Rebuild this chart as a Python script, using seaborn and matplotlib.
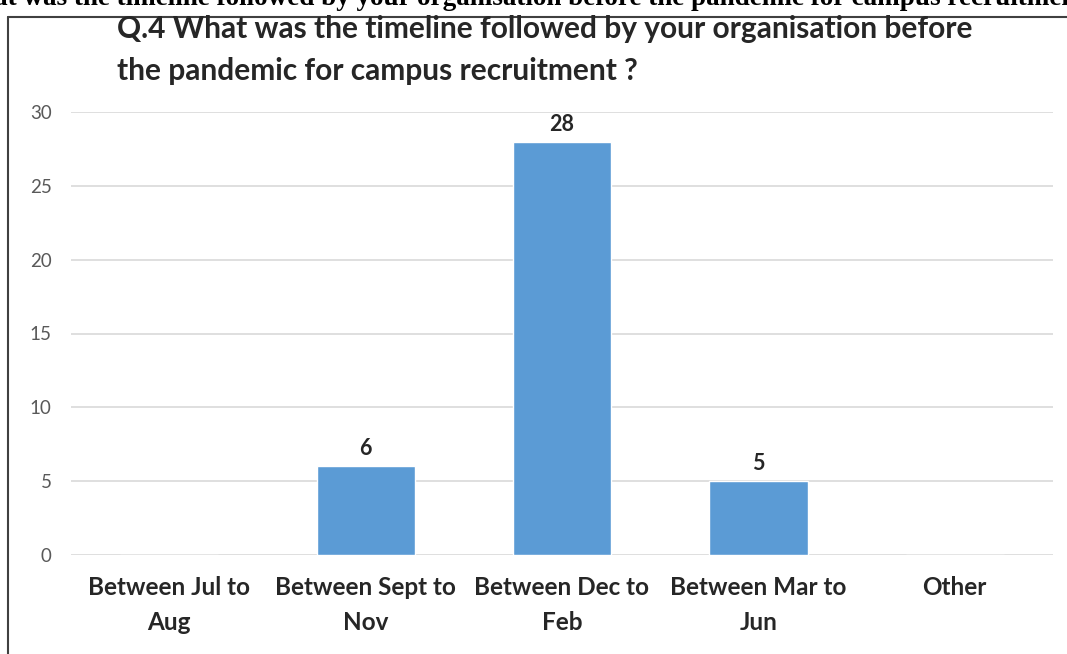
import matplotlib
matplotlib.use("Agg")
import matplotlib.pyplot as plt
from matplotlib.lines import Line2D
import seaborn as sns
import pandas as pd

categories = ["Between Jul to\nAug", "Between Sept to\nNov", "Between Dec to\nFeb",
              "Between Mar to\nJun", "Other"]
counts = [0, 6, 28, 5, 0]
labels = ["", "6", "28", "5", ""]
yticks = [0, 5, 10, 15, 20, 25, 30]
title = "Q.4 What was the timeline followed by your organisation before\nthe pandemic for campus recruitment ?"
caption = "What was the timeline followed by your organisation before the pandemic for campus recruitment"

sns.set_theme(style="white")
plt.rcParams['font.family'] = ['Lato', 'DejaVu Sans']

df = pd.DataFrame({"cat": categories, "n": counts})

fig = plt.figure(figsize=(10.67, 6.54), dpi=100)
ax = fig.add_axes([71/1067, 1 - 555/654, (1053-71)/1067, (555-112)/654])

sns.barplot(data=df, x="cat", y="n", color="#5b9bd5", width=0.5, saturation=1, ax=ax, zorder=3)

ax.set_ylim(0, 30)
ax.set_yticks(yticks)
ax.yaxis.grid(True, color="#d9d9d9", linewidth=1.2, zorder=0)
ax.set_axisbelow(True)
for s in ax.spines.values():
    s.set_visible(False)
ax.set_xlabel("")
ax.set_ylabel("")
ax.tick_params(axis="y", labelsize=13.5, labelcolor="#595959", length=0, pad=14)
ax.tick_params(axis="x", labelsize=17.5, length=0, pad=15)
for t in ax.get_xticklabels():
    t.set_fontweight("bold")
    t.set_color("#262626")
    t.set_linespacing(1.65)

for i, (v, lab) in enumerate(zip(counts, labels)):
    if lab:
        ax.annotate(lab, (i, v), xytext=(0, 5), textcoords="offset points",
                    ha="center", va="bottom", fontsize=15.5, fontweight="bold", color="#262626")

fig.text(117/1067, 1 - 15/654, title, ha="left", va="top", fontsize=21.5, fontweight="bold",
         color="#262626", linespacing=1.6)

fig.text(-0.045, 1 - 5/654, caption, ha="left", va="baseline", fontsize=19.5,
         fontweight="bold", family=["Liberation Serif"], color="black")

fig.add_artist(Line2D([8/1067, 1], [1 - 17/654, 1 - 17/654], color="#404040", linewidth=1.5))
fig.add_artist(Line2D([8/1067, 8/1067], [0, 1 - 17/654], color="#404040", linewidth=1.5))

fig.savefig("out.png", dpi=100, facecolor="white")
